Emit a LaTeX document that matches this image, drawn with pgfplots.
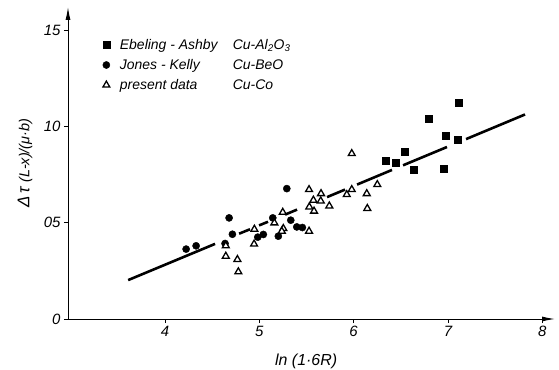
\documentclass[border=0pt]{standalone}
\usepackage{fontspec}
\setmainfont{Liberation Sans}
\usepackage{pgfplots}
\pgfplotsset{compat=1.18}
\usetikzlibrary{arrows.meta}

\begin{document}
\begin{tikzpicture}
\useasboundingbox (-68bp,-51bp) rectangle (491bp,319bp);
\begin{axis}[
  scale only axis, width=487bp, height=312bp,
  xmin=2.97, xmax=8.136, ymin=0, ymax=1.62,
  axis lines=left,
  axis line style={line width=1pt, -{Latex[length=13bp,width=5bp]}},
  xtick={4,5,6,7,8}, xticklabels={4,5,6,7,8},
  ytick={0,0.5,1,1.5}, yticklabels={0,05,10,15},
  tick label style={font=\fontsize{15}{17}\selectfont\itshape},
  tick align=outside, major tick length=4bp, tick style={line width=0.8pt,black},
  xlabel={ln (1·6R)},
  xlabel style={at={(axis description cs:0.489,0)}, anchor=center, yshift=-42bp, font=\fontsize{16}{18}\selectfont\itshape},
  ylabel={{\fontsize{17}{19}\selectfont Δ\,τ}\ (L-x)/(μ·b)},
  ylabel style={at={(axis description cs:-0.088,0.5)}, anchor=center, font=\fontsize{14.5}{17}\selectfont\itshape},
  clip=false,
  unbounded coords=jump,
  legend style={at={(rel axis cs:0.071,0.904)}, anchor=north west, draw=none, fill=none,
    font=\fontsize{14}{16}\selectfont\itshape, row sep=4.5pt, inner sep=0pt},
  legend cell align=left,
]
% fitted line (broken where points lie)
\addplot[black, line width=2.6pt, forget plot] coordinates {
  (3.608,0.202) (4.530,0.390) (4.6,nan)
  (4.785,0.443) (4.901,0.466) (4.95,nan)
  (4.997,0.486) (5.092,0.505) (5.2,nan)
  (5.273,0.542) (5.400,0.568) (5.5,nan)
  (5.718,0.633) (5.909,0.672) (5.95,nan)
  (6.036,0.698) (6.407,0.774) (6.45,nan)
  (6.524,0.798) (6.990,0.893) (7.1,nan)
  (7.192,0.934) (7.818,1.062)
};
% Ebeling - Ashby, Cu-Al2O3
\addplot[only marks, mark=square*, mark size=3.6pt, black] coordinates {
  (6.340,0.824) (6.450,0.812) (6.538,0.870) (6.633,0.776) (6.800,1.040)
  (6.977,0.950) (7.100,0.931) (6.959,0.781) (7.118,1.121)
};
\addlegendentry{\hspace*{8bp}\makebox[113bp][l]{Ebeling - Ashby}Cu-Al\textsubscript{2}O\textsubscript{3}}
% Jones - Kelly, Cu-BeO
\addplot[only marks, mark=*, mark size=3.6pt, black] coordinates {
  (4.223,0.363) (4.329,0.380) (4.679,0.525) (4.714,0.440) (4.636,0.392)
  (4.983,0.425) (5.042,0.439) (5.142,0.525) (5.291,0.677) (5.333,0.513)
  (5.201,0.430) (5.397,0.478) (5.456,0.475)
};
\addlegendentry{\hspace*{8bp}\makebox[113bp][l]{Jones - Kelly}Cu-BeO}
% present data, Cu-Co
\addplot[only marks, mark=triangle*, mark size=4pt, black, line width=1.3pt, fill=white,
  mark options={fill=white}] coordinates {
  (4.644,0.380) (4.644,0.326) (4.767,0.309) (4.777,0.245) (4.947,0.466)
  (4.944,0.389) (5.159,0.499) (5.248,0.554) (5.254,0.470) (5.238,0.456)
  (5.527,0.672) (5.654,0.651) (5.573,0.617) (5.651,0.613) (5.530,0.582)
  (5.580,0.560) (5.742,0.587) (5.527,0.456) (5.980,0.859) (5.980,0.672)
  (5.927,0.646) (6.139,0.651) (6.145,0.574) (6.251,0.698)
};
\addlegendentry{\hspace*{8bp}\makebox[113bp][l]{present data}Cu-Co}
\end{axis}
\end{tikzpicture}
\end{document}
